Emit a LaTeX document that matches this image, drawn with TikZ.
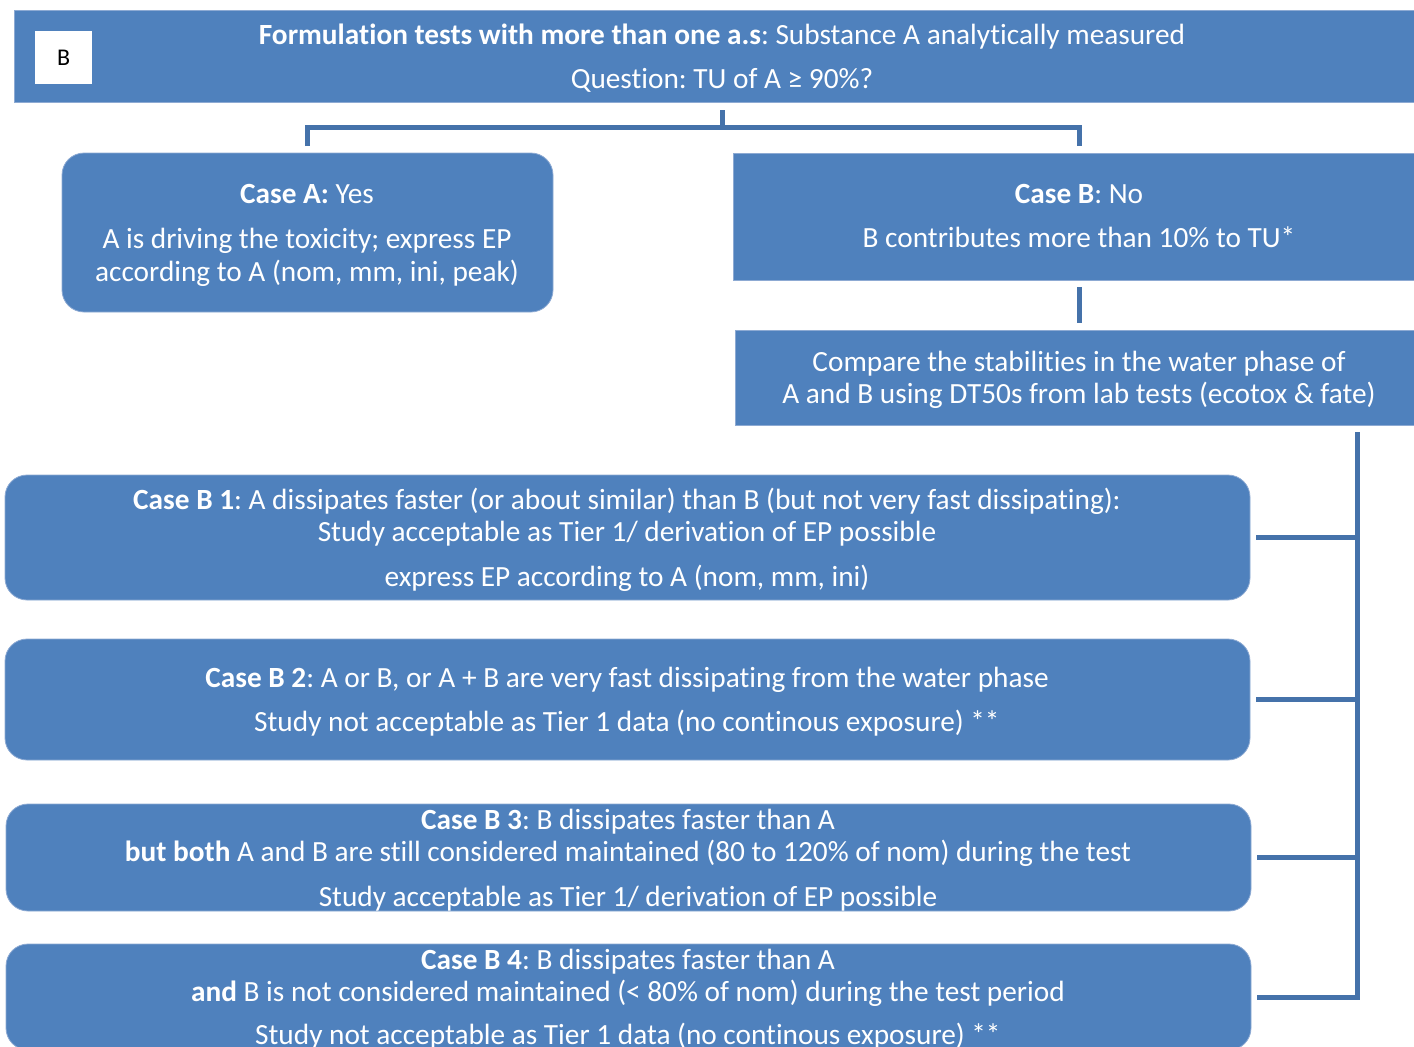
\documentclass[tikz,border=0pt]{standalone}
\usepackage{fontspec}
\setmainfont{Carlito}[Ligatures=NoCommon]
\frenchspacing
\definecolor{boxblue}{HTML}{4F81BD}
\definecolor{linkblue}{HTML}{4572AA}
\definecolor{edgeblue}{HTML}{8DAAD3}
\tikzset{
  bx/.style={fill=boxblue, draw=edgeblue, line width=0.8pt, inner sep=0pt, outer sep=0pt, anchor=north west},
  rbx/.style={bx, rounded corners=22pt},
  txt/.style={text=white, anchor=base, inner sep=0pt, font=\fontsize{29.3}{34}\selectfont},
  link/.style={draw=linkblue, line width=5pt},
}
\begin{document}
\begin{tikzpicture}[x=1pt,y=-1pt]
\useasboundingbox (0,0) rectangle (1414,1047);
% boxes
\node[bx, minimum width=1400pt, minimum height=92pt] (top) at (14,10) {};
\node[fill=white, minimum width=57pt, minimum height=53pt, anchor=north west, inner sep=0pt] (lab) at (35,31) {\fontsize{24}{28}\selectfont B};
\node[rbx, minimum width=491pt, minimum height=159pt] (caseA) at (62,153) {};
\node[bx, minimum width=690pt, minimum height=127pt] (caseB) at (733,153) {};
\node[bx, minimum width=690pt, minimum height=95pt] (cmp) at (735,330) {};
\node[rbx, minimum width=1245pt, minimum height=125pt] (b1) at (5,475) {};
\node[rbx, minimum width=1245pt, minimum height=121pt] (b2) at (5,639) {};
\node[rbx, minimum width=1245pt, minimum height=107pt] (b3) at (6,804) {};
\node[rbx, minimum width=1245pt, minimum height=106pt] (b4) at (6,944) {};
% texts
\node[txt] (t1) at (722,44) {\textbf{Formulation tests with more than one a.s}: Substance A analytically measured};
\node[txt] (t2) at (722,88) {Question: TU of A ≥ 90\%?};
\node[txt] (a1) at (307,203) {\textbf{Case A:} Yes};
\node[txt] (a2) at (307,248) {A is driving the toxicity; express EP};
\node[txt] (a3) at (307,281) {according to A (nom, mm, ini, peak)};
\node[txt] (bb1) at (1079,203) {\textbf{Case B}: No};
\node[txt] (bb2) at (1079,247) {B contributes more than 10\% to TU*};
\node[txt] (c1) at (1079,371) {Compare the stabilities in the water phase of};
\node[txt] (c2) at (1079,403) {A and B using DT50s from lab tests (ecotox \& fate)};
\node[txt] (p1) at (627,509) {\textbf{Case B 1}: A dissipates faster (or about similar) than B (but not very fast dissipating):};
\node[txt] (p2) at (627,541) {Study acceptable as Tier 1/ derivation of EP possible};
\node[txt] (p3) at (627,586) {express EP according to A (nom, mm, ini)};
\node[txt] (q1) at (627,687) {\textbf{Case B 2}: A or B, or A + B are very fast dissipating from the water phase};
\node[txt] (q2) at (627,731) {Study not acceptable as Tier 1 data (no continous exposure) **};
\node[txt] (r1) at (628,829) {\textbf{Case B 3}: B dissipates faster than A};
\node[txt] (r2) at (628,861) {\textbf{but both} A and B are still considered maintained (80 to 120\% of nom) during the test};
\node[txt] (r3) at (628,906) {Study acceptable as Tier 1/ derivation of EP possible};
\node[txt] (s1) at (628,969) {\textbf{Case B 4}: B dissipates faster than A};
\node[txt] (s2) at (628,1001) {\textbf{and} B is not considered maintained (< 80\% of nom) during the test period};
\node[txt] (s3) at (628,1044) {Study not acceptable as Tier 1 data (no continous exposure) **};
% connectors
\coordinate (bj) at (722,127);
\coordinate (bl) at (307,127);
\coordinate (br) at (1079,127);
\coordinate (spx) at (1357,0);
\draw[link] ([yshift=-8pt]top.south -| bj) -- (bj);
\draw[link] ([yshift=7pt]caseA.north -| bl) -- (bl) -- (br) -- ([yshift=7pt]caseB.north -| br);
\draw[link] ([yshift=-7pt]caseB.south -| br) -- ([yshift=7pt]cmp.north -| br);
\draw[link] ([yshift=-7pt]cmp.south -| spx) -- (b4.east -| spx) -- ([xshift=6pt]b4.east);
\draw[link] ([xshift=6pt]b1.east) -- (b1.east -| spx);
\draw[link] ([xshift=6pt]b2.east) -- (b2.east -| spx);
\draw[link] ([xshift=6pt]b3.east) -- (b3.east -| spx);
\end{tikzpicture}
\end{document}
